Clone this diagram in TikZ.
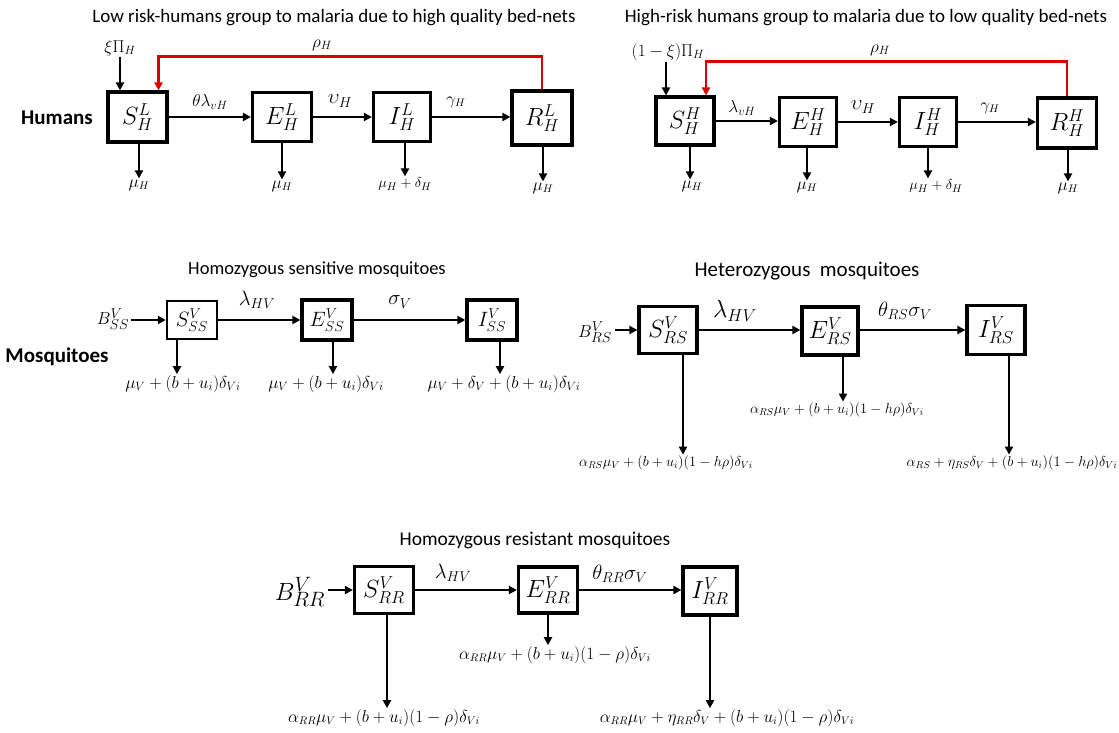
\documentclass[tikz,border=0pt]{standalone}
\usepackage{fontspec}
\newfontfamily\calibri{Carlito}
\usetikzlibrary{arrows.meta,calc}
\newcommand{\fs}[1]{\fontsize{#1}{#1}\selectfont}
\begin{document}
\begin{tikzpicture}[x=1pt,y=-1pt,
  cbox/.style={draw,line width=3.2pt,inner sep=0pt,font=\fs{26}},
  flow/.style={-{Triangle[length=8pt,width=8pt]},line width=2pt},
  rflow/.style={flow,draw=red!85!black,line width=2.4pt},
  lab/.style={inner sep=1pt,font=\fs{#1}},
  ttl/.style={font=\calibri\fs{#1}},
  grp/.style={font=\calibri\bfseries\fs{21}}]
\useasboundingbox (0,0) rectangle (1119,732);

% ---------- top left ----------
\node[ttl=19] (t1) at (334,18) {Low risk-humans group to malaria due to high quality bed-nets};
\node[grp] (hum) at (57,118) {Humans};
\node[cbox,minimum width=59pt,minimum height=50pt] (SLH) at (137.5,117) {$S^{L}_{H}$};
\node[cbox,minimum width=59pt,minimum height=49pt] (ELH) at (282,117) {$E^{L}_{H}$};
\node[cbox,minimum width=57pt,minimum height=49pt] (ILH) at (402,117) {$I^{L}_{H}$};
\node[cbox,minimum width=60pt,minimum height=54pt] (RLH) at (542,118) {$R^{L}_{H}$};
\draw[flow] (SLH.east) -- (SLH.east -| ELH.west);
\draw[flow] (ELH.east) -- (ELH.east -| ILH.west);
\draw[flow] (ILH.east) -- (ILH.east -| RLH.west);
\node[lab=18] (l1a) at (210,102) {$\theta\lambda_{vH}$};
\node[lab=22] (l1b) at (340,101) {$\upsilon_H$};
\node[lab=16] (l1c) at (456,102) {$\gamma_H$};
\node[lab=18] (rho1) at (322,45) {$\rho_H$};
\node[lab=17] (in1) at (120,48) {$\xi\Pi_H$};
\draw[flow] (in1.south) -- (in1.south |- SLH.north);
\draw[rflow] (RLH.north) -- ++(0,-33) -| ([xshift=21pt]SLH.north);
\node[lab=16] (o1a) at (139,185) {$\mu_H$};
\node[lab=16] (o1b) at (282,186) {$\mu_H$};
\node[lab=15] (o1c) at (405,184) {$\mu_H+\delta_H$};
\node[lab=16] (o1d) at (543,188) {$\mu_H$};
\foreach \b/\o in {SLH/o1a,ELH/o1b,ILH/o1c,RLH/o1d}
  \draw[flow] (\o.north |- \b.south) -- (\o.north);

% ---------- top right ----------
\node[ttl=19] (t2) at (866,18) {High-risk humans group to malaria due to low quality bed-nets};
\node[cbox,minimum width=58pt,minimum height=48pt] (SHH) at (685,121) {$S^{H}_{H}$};
\node[cbox,minimum width=57pt,minimum height=49pt] (EHH) at (808,122) {$E^{H}_{H}$};
\node[cbox,minimum width=57pt,minimum height=49pt] (IHH) at (928,122) {$I^{H}_{H}$};
\node[cbox,minimum width=59pt,minimum height=50pt] (RHH) at (1067,123) {$R^{H}_{H}$};
\draw[flow] (SHH.east) -- (SHH.east -| EHH.west);
\draw[flow] (EHH.east) -- (EHH.east -| IHH.west);
\draw[flow] (IHH.east) -- (IHH.east -| RHH.west);
\node[lab=18] (l2a) at (742,108) {$\lambda_{vH}$};
\node[lab=22] (l2b) at (863,107) {$\upsilon_H$};
\node[lab=16] (l2c) at (990,108) {$\gamma_H$};
\node[lab=18] (rho2) at (880,50) {$\rho_H$};
\node[lab=17] (in2) at (668,52) {$(1-\xi)\Pi_H$};
\draw[flow] ([xshift=-19pt]SHH.north |- in2.south) -- ([xshift=-19pt]SHH.north);
\draw[rflow] (RHH.north) -- ++(0,-35) -| ([xshift=21pt]SHH.north);
\node[lab=16] (o2a) at (692,186) {$\mu_H$};
\node[lab=16] (o2b) at (807,187) {$\mu_H$};
\node[lab=15] (o2c) at (936,186) {$\mu_H+\delta_H$};
\node[lab=16] (o2d) at (1068,188) {$\mu_H$};
\draw[flow] ([xshift=5pt]SHH.south) -- ([xshift=5pt]SHH.south |- o2a.north);
\draw[flow] (o2b.north |- EHH.south) -- (o2b.north);
\draw[flow] (IHH.south) -- (IHH.south |- o2c.north);
\draw[flow] (o2d.north |- RHH.south) -- (o2d.north);

% ---------- middle left ----------
\node[ttl=18.5] (t3) at (317,270) {Homozygous sensitive mosquitoes};
\node[grp] (mos) at (57,357) {Mosquitoes};
\node[lab=19,inner sep=0pt] (B1) at (113,319) {$B^{V}_{SS}$};
\node[cbox,line width=2.4pt,font=\fs{21},minimum width=50pt,minimum height=38pt] (SSS) at (192,320) {$S^{V}_{SS}$};
\node[cbox,font=\fs{21},minimum width=50pt,minimum height=40pt] (ESS) at (327,320) {$E^{V}_{SS}$};
\node[cbox,font=\fs{21},minimum width=50pt,minimum height=40pt] (ISS) at (492,320) {$I^{V}_{SS}$};
\draw[flow] ([xshift=2pt]B1.east |- SSS.west) -- (SSS.west);
\draw[flow] (SSS) -- (ESS);
\draw[flow] (ESS) -- (ISS);
\node[lab=22] (l3a) at (257,300) {$\lambda_{HV}$};
\node[lab=22] (l3b) at (400,302) {$\sigma_V$};
\node[lab=18.5] (o3a) at (183,384) {$\mu_V+(b+u_i)\delta_{Vi}$};
\node[lab=18.5] (o3b) at (326,384) {$\mu_V+(b+u_i)\delta_{Vi}$};
\node[lab=18.5] (o3c) at (504,384) {$\mu_V+\delta_V+(b+u_i)\delta_{Vi}$};
\draw[flow] ([xshift=-15pt]SSS.south) -- ([xshift=-15pt]SSS.south |- o3a.north);
\draw[flow] ([xshift=6pt]ESS.south) -- ([xshift=6pt]ESS.south |- o3b.north);
\draw[flow] ([xshift=8pt]ISS.south) -- ([xshift=8pt]ISS.south |- o3c.north);

% ---------- middle right ----------
\node[ttl=21] (t4) at (807,271) {Heterozygous~~mosquitoes};
\node[lab=19,inner sep=0pt] (B2) at (595,332) {$B^{V}_{RS}$};
\node[cbox,font=\fs{25},minimum width=58pt,minimum height=47pt] (SRS) at (668,330) {$S^{V}_{RS}$};
\node[cbox,font=\fs{25},minimum width=56pt,minimum height=48pt] (ERS) at (830,331) {$E^{V}_{RS}$};
\node[cbox,font=\fs{25},minimum width=58pt,minimum height=49pt] (IRS) at (996,330) {$I^{V}_{RS}$};
\draw[flow] ([xshift=3pt]B2.east |- SRS.west) -- (SRS.west);
\draw[flow] (SRS.east) -- (SRS.east -| ERS.west);
\draw[flow] (ERS.east |- SRS.east) -- (SRS.east -| IRS.west);
\node[lab=23] (l4a) at (735,311) {$\lambda_{HV}$};
\node[lab=22] (l4b) at (905,311) {$\theta_{RS}\sigma_V$};
\node[lab=14] (o4a) at (666,463) {$\alpha_{RS}\mu_V+(b+u_i)(1-h\rho)\delta_{Vi}$};
\node[lab=14] (o4b) at (837,410) {$\alpha_{RS}\mu_V+(b+u_i)(1-h\rho)\delta_{Vi}$};
\node[lab=14] (o4c) at (1012,463) {$\alpha_{RS}+\eta_{RS}\delta_V+(b+u_i)(1-h\rho)\delta_{Vi}$};
\draw[flow] ([xshift=15pt]SRS.south) -- ([xshift=15pt]SRS.south |- o4a.north);
\draw[flow] ([xshift=13pt]ERS.south) -- ([xshift=13pt]ERS.south |- o4b.north);
\draw[flow] ([xshift=13pt]IRS.south) -- ([xshift=13pt]IRS.south |- o4c.north);

% ---------- bottom ----------
\node[ttl=19.5] (t5) at (535,540) {Homozygous resistant mosquitoes};
\node[lab=28,inner sep=0pt] (B3) at (300,592) {$B^{V}_{RR}$};
\node[cbox,font=\fs{25},minimum width=59pt,minimum height=47pt] (SRR) at (384,590) {$S^{V}_{RR}$};
\node[cbox,font=\fs{25},minimum width=59pt,minimum height=46pt] (ERR) at (548,590) {$E^{V}_{RR}$};
\node[cbox,font=\fs{25},minimum width=54pt,minimum height=48pt] (IRR) at (710,591) {$I^{V}_{RR}$};
\draw[flow] ([xshift=3pt]B3.east |- SRR.west) -- (SRR.west);
\draw[flow] (SRR.east) -- (SRR.east -| ERR.west);
\draw[flow] (ERR.east) -- (ERR.east -| IRR.west);
\node[lab=20] (l5a) at (453,573) {$\lambda_{HV}$};
\node[lab=20] (l5b) at (620,574) {$\theta_{RR}\sigma_V$};
\node[lab=16] (o5a) at (384,718) {$\alpha_{RR}\mu_V+(b+u_i)(1-\rho)\delta_{Vi}$};
\node[lab=16] (o5b) at (555,655) {$\alpha_{RR}\mu_V+(b+u_i)(1-\rho)\delta_{Vi}$};
\node[lab=16] (o5c) at (727,718) {$\alpha_{RR}\mu_V+\eta_{RR}\delta_V+(b+u_i)(1-\rho)\delta_{Vi}$};
\draw[flow] ([xshift=3pt]SRR.south) -- ([xshift=3pt]SRR.south |- o5a.north);
\draw[flow] (ERR.south) -- (ERR.south |- o5b.north);
\draw[flow] (IRR.south) -- (IRR.south |- o5c.north);
\end{tikzpicture}
\end{document}
